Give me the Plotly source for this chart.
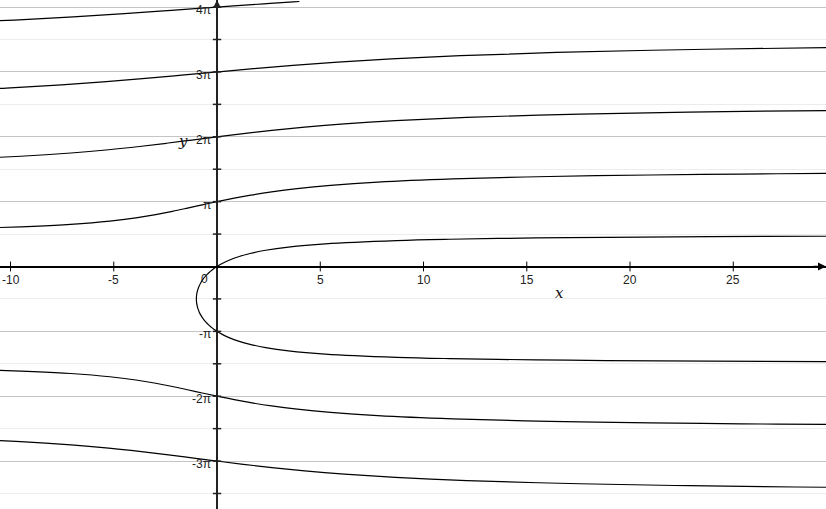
import plotly.graph_objects as go

# ---- data (y in units of pi) ----
# branch through 0 and -pi (the loop)
b0_y = [0.47, 0.46, 0.45, 0.44, 0.42, 0.40, 0.35, 0.30, 0.25, 0.20, 0.15, 0.10, 0.05, 0.0,
        -0.05, -0.10, -0.15, -0.20, -0.25, -0.30, -0.35, -0.40, -0.45, -0.50,
        -0.55, -0.60, -0.65, -0.70, -0.75, -0.80, -0.85, -0.90, -0.95, -1.0,
        -1.05, -1.10, -1.15, -1.20, -1.25, -1.30, -1.35, -1.40, -1.42, -1.44, -1.45, -1.46, -1.47]
b0_x = [32.24, 23.87, 18.85, 15.48, 11.26, 8.70, 5.24, 3.458, 2.356, 1.598, 1.040, 0.612, 0.274, 0.0,
        -0.224, -0.408, -0.560, -0.685, -0.785, -0.865, -0.925, -0.967, -0.992, -1.0,
        -0.992, -0.967, -0.925, -0.865, -0.785, -0.685, -0.560, -0.408, -0.224, 0.0,
        0.274, 0.612, 1.040, 1.598, 2.356, 3.458, 5.24, 8.70, 11.26, 15.48, 18.85, 23.87, 32.24]
# branch through pi
b1_y = [0.58, 0.60, 0.62, 0.65, 0.70, 0.75, 0.80, 0.85, 0.90, 0.95, 1.0, 1.05, 1.10, 1.15,
        1.20, 1.25, 1.30, 1.35, 1.38, 1.40, 1.42, 1.43, 1.44]
b1_x = [-13.22, -10.64, -8.89, -7.09, -5.19, -3.93, -2.97, -2.16, -1.43, -0.72, 0.0, 0.771, 1.633, 2.641,
        3.880, 5.498, 7.781, 11.41, 14.92, 18.37, 23.49, 27.13, 31.95]
# branch through 2pi
b2_y = [1.62, 1.65, 1.70, 1.75, 1.80, 1.85, 1.90, 1.95, 2.0, 2.05, 2.10, 2.15, 2.20, 2.25,
        2.30, 2.35, 2.38, 2.40, 2.42]
b2_x = [-16.82, -13.26, -9.51, -7.07, -5.25, -3.76, -2.45, -1.22, 0.0, 1.269, 2.654, 4.242, 6.162, 8.639,
        12.10, 17.58, 22.85, 28.04, 35.73]
# branch through 3pi
b3_y = [2.70, 2.75, 2.80, 2.85, 2.90, 2.95, 3.0, 3.05, 3.10, 3.15, 3.20, 3.25, 3.30, 3.35, 3.38]
b3_x = [-13.83, -10.21, -7.53, -5.36, -3.47, -1.717, 0.0, 1.767, 3.675, 5.842, 8.445, 11.78, 16.43, 23.74, 30.79]
# branch through 4pi (ends near the top of the board)
b4_y = [3.75, 3.80, 3.85, 3.90, 3.95, 4.0, 4.05, 4.08, 4.086]
b4_x = [-13.35, -9.81, -6.96, -4.49, -2.214, 0.0, 2.264, 3.695, 3.99]
# branch through -2pi
bm2_y = [-1.58, -1.60, -1.62, -1.65, -1.70, -1.75, -1.80, -1.85, -1.90, -1.95, -2.0, -2.05, -2.10, -2.15,
         -2.20, -2.25, -2.30, -2.35, -2.38, -2.40, -2.42, -2.43, -2.44]
bm2_x = [-13.22, -10.64, -8.89, -7.09, -5.19, -3.93, -2.97, -2.16, -1.43, -0.72, 0.0, 0.771, 1.633, 2.641,
         3.880, 5.498, 7.781, 11.41, 14.92, 18.37, 23.49, 27.13, 31.95]
# branch through -3pi
bm3_y = [-2.62, -2.65, -2.70, -2.75, -2.80, -2.85, -2.90, -2.95, -3.0, -3.05, -3.10, -3.15, -3.20, -3.25,
         -3.30, -3.35, -3.38, -3.40, -3.42]
bm3_x = [-16.82, -13.26, -9.51, -7.07, -5.25, -3.76, -2.45, -1.22, 0.0, 1.269, 2.654, 4.242, 6.162, 8.639,
         12.10, 17.58, 22.85, 28.04, 35.73]

x_tick_vals = [-10, -5, 5, 10, 15, 20, 25]
x_tick_text = ["-10", "-5", "5", "10", "15", "20", "25"]
y_tick_vals = [-3, -2, -1, 1, 2, 3, 4]
y_tick_text = ["-3π", "-2π", "-π", "π", "2π", "3π", "4π"]
y_minor_vals = [-3.5, -3, -2.5, -2, -1.5, -1, -0.5, 0.5, 1, 1.5, 2, 2.5, 3, 3.5, 4]

X_RANGE = [-10.51, 29.49]
Y_RANGE = [-3.739, 4.109]

fig = go.Figure()

for xs, ys in [(b0_x, b0_y), (b1_x, b1_y), (b2_x, b2_y), (b3_x, b3_y), (b4_x, b4_y),
               (bm2_x, bm2_y), (bm3_x, bm3_y)]:
    fig.add_trace(go.Scatter(x=xs, y=ys, mode="lines", line=dict(color="black", width=1.2, shape="spline"),
                             hoverinfo="skip", showlegend=False))

# tick marks on the axes
fig.add_trace(go.Scatter(x=x_tick_vals, y=[0] * len(x_tick_vals), mode="markers",
                         marker=dict(symbol="line-ns", size=7, line=dict(color="black", width=1)),
                         hoverinfo="skip", showlegend=False))
fig.add_trace(go.Scatter(x=[0] * len(y_minor_vals), y=y_minor_vals, mode="markers",
                         marker=dict(symbol="line-ew", size=6, line=dict(color="#222", width=1.5)),
                         hoverinfo="skip", showlegend=False))

font = dict(family="Liberation Sans, Arial, sans-serif", size=12, color="#222")
serif = dict(family="DejaVu Serif, serif", size=15, color="#111", style="italic")
ann = []
for v, t in zip(x_tick_vals, x_tick_text):
    ann.append(dict(x=v, y=0, text=t, showarrow=False, xanchor="center", yanchor="middle",
                    yshift=-13.5, font=font))
for v, t in zip(y_tick_vals, y_tick_text):
    ann.append(dict(x=0, y=v, text=t, showarrow=False, xanchor="right", yanchor="middle",
                    xshift=-4, yshift=-3, font=font))
ann.append(dict(x=0, y=0, text="0", showarrow=False, xanchor="center", yanchor="middle",
                xshift=-13, yshift=-12.5, font=font))
# axis names
ann.append(dict(x=16.6, y=-0.41, text="x", showarrow=False, font=serif, xanchor="center", yanchor="middle"))
ann.append(dict(x=-1.65, y=1.935, text="y", showarrow=False, font=serif, xanchor="center", yanchor="middle"))
# arrows
ann.append(dict(x=X_RANGE[1], y=0, ax=-14, ay=0, showarrow=True, arrowhead=2, arrowsize=1,
                arrowwidth=1.6, arrowcolor="black", text=""))
ann.append(dict(x=0, y=Y_RANGE[1], ax=0, ay=14, showarrow=True, arrowhead=2, arrowsize=1,
                arrowwidth=1.6, arrowcolor="#222", text=""))

fig.update_layout(
    width=826, height=509, autosize=False,
    margin=dict(l=0, r=0, t=0, b=0),
    paper_bgcolor="white", plot_bgcolor="white",
    annotations=ann,
    xaxis=dict(range=X_RANGE, showgrid=False, zeroline=True, zerolinecolor="#222", zerolinewidth=2,
               showticklabels=False, ticks="", fixedrange=True),
    yaxis=dict(range=Y_RANGE, tick0=0, dtick=1, showgrid=True, gridcolor="#c4c4c4", gridwidth=1,
               minor=dict(tick0=0, dtick=0.5, showgrid=True, gridcolor="#ececec", gridwidth=1),
               zeroline=True, zerolinecolor="black", zerolinewidth=1.6,
               showticklabels=False, ticks="", fixedrange=True),
)

fig.write_html("out.html", config={"displayModeBar": False},
               post_script="document.body.style.margin='0';document.body.style.overflow='hidden';")
